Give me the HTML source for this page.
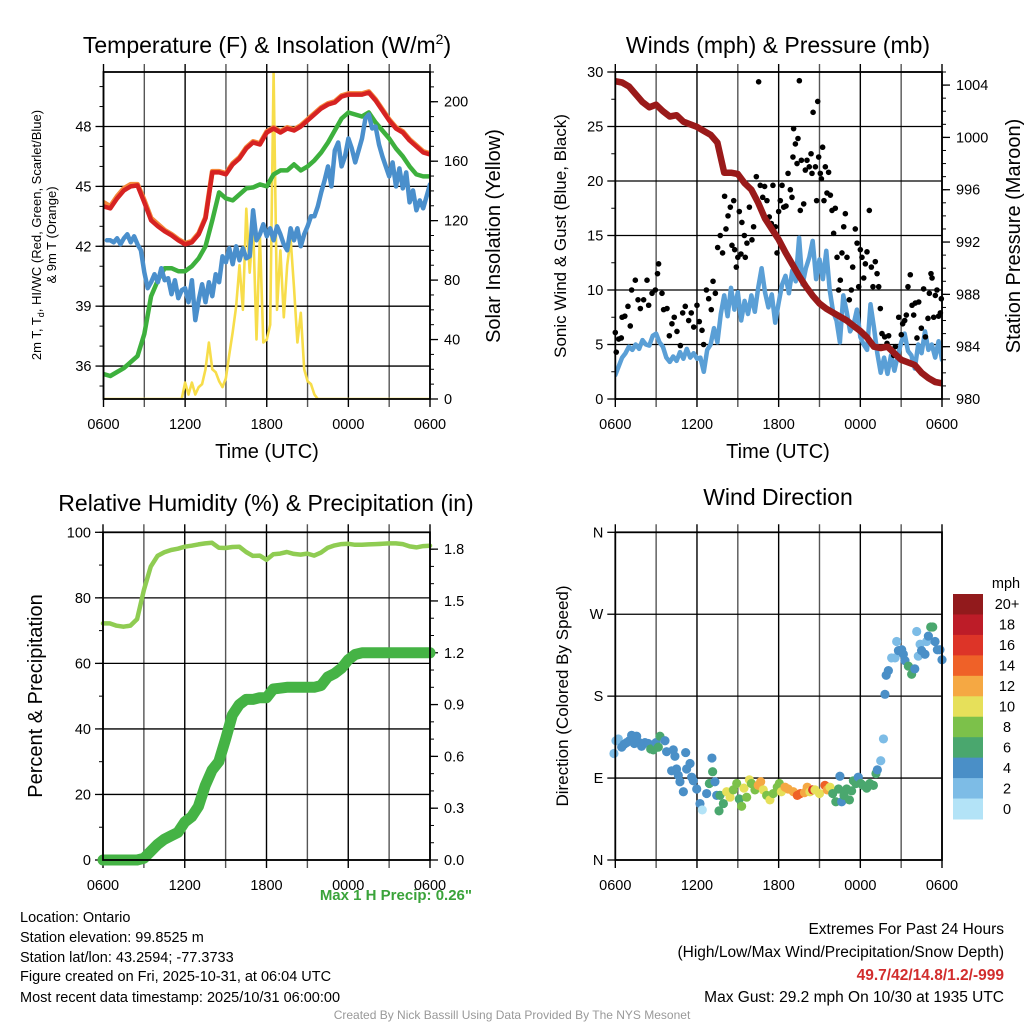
<!DOCTYPE html>
<html><head><meta charset="utf-8"><style>
html,body{margin:0;padding:0;background:#fff}
svg{display:block;font-family:"Liberation Sans",sans-serif}
</style></head><body>
<svg id="s" width="1024" height="1024" viewBox="0 0 1024 1024" xmlns="http://www.w3.org/2000/svg">
<g font-size="23" text-anchor="middle" fill="#000">
<text x="267" y="53">Temperature (F) &amp; Insolation (W/m<tspan font-size="14" dy="-9">2</tspan><tspan dy="9">)</tspan></text>
<text x="778" y="53">Winds (mph) &amp; Pressure (mb)</text>
<text x="266" y="511">Relative Humidity (%) &amp; Precipitation (in)</text>
<text x="778" y="505">Wind Direction</text>
</g>
<g fill="#000" text-anchor="middle">
<text x="267" y="458" font-size="20">Time (UTC)</text>
<text x="778" y="458" font-size="20">Time (UTC)</text>
<text transform="translate(41,235) rotate(-90)" font-size="13">2m T, T<tspan font-size="9" dy="3">d</tspan><tspan dy="-3">, HI/WC (Red, Green, Scarlet/Blue)</tspan></text>
<text transform="translate(56,235) rotate(-90)" font-size="13">&amp; 9m T (Orange)</text>
<text transform="translate(500,236) rotate(-90)" font-size="20">Solar Insolation (Yellow)</text>
<text transform="translate(566,236) rotate(-90)" font-size="17">Sonic Wind &amp; Gust (Blue, Black)</text>
<text transform="translate(1020,236) rotate(-90)" font-size="20">Station Pressure (Maroon)</text>
<text transform="translate(42,696) rotate(-90)" font-size="20">Percent &amp; Precipitation</text>
<text transform="translate(568,696) rotate(-90)" font-size="17">Direction (Colored By Speed)</text>
</g>
<g font-size="14.5" fill="#000">
<text x="20" y="922">Location: Ontario</text>
<text x="20" y="942">Station elevation: 99.8525 m</text>
<text x="20" y="962">Station lat/lon: 43.2594; -77.3733</text>
<text x="20" y="981">Figure created on Fri, 2025-10-31, at 06:04 UTC</text>
<text x="20" y="1002">Most recent data timestamp: 2025/10/31 06:00:00</text>
</g>
<g font-size="15.5" fill="#000" text-anchor="end">
<text x="1004" y="934">Extremes For Past 24 Hours</text>
<text x="1004" y="957">(High/Low/Max Wind/Precipitation/Snow Depth)</text>
<text x="1004" y="980" fill="#d22d2d" font-weight="bold">49.7/42/14.8/1.2/-999</text>
<text x="1004" y="1002">Max Gust: 29.2 mph On 10/30 at 1935 UTC</text>
</g>
<text x="472" y="900" font-size="15" font-weight="bold" fill="#3aa33a" text-anchor="end">Max 1 H Precip: 0.26"</text>
<text x="512" y="1019" font-size="12" fill="#999" text-anchor="middle">Created By Nick Bassill Using Data Provided By The NYS Mesonet</text>
</svg>
<script>
// ---- Temperature panel data (hours since 0600 UTC) ----
const tempStep = 0.5;
const tempRed = [44.0,43.9,44.4,44.8,45.0,45.05,44.2,43.3,43.0,42.75,42.55,42.3,42.1,42.2,42.6,43.4,45.7,45.7,45.6,46.1,46.4,46.9,47.2,47.1,47.7,47.9,47.7,47.9,47.8,48.0,48.3,48.6,48.9,49.1,49.2,49.5,49.6,49.6,49.6,49.7,49.3,48.8,48.3,47.9,47.7,47.3,47.0,46.7,46.6];
const tempOrange = [44.2,44.0,44.5,44.9,45.1,45.1,44.3,43.4,43.1,42.8,42.6,42.35,42.15,42.25,42.65,43.45,45.75,45.75,45.65,46.15,46.45,46.95,47.25,47.15,47.75,47.95,47.75,47.95,47.85,48.05,48.35,48.65,48.95,49.15,49.25,49.55,49.65,49.65,49.65,49.75,49.35,48.85,48.35,47.95,47.75,47.35,47.05,46.75,46.65];
const tempGreen = [35.6,35.5,35.7,35.9,36.2,36.5,37.6,39.5,40.3,40.9,40.9,40.75,40.75,41.0,41.4,42.0,43.3,44.7,44.4,44.3,44.6,44.9,44.95,45.1,45.0,45.6,45.8,45.8,46.1,45.8,46.0,46.3,46.7,47.2,47.8,48.4,48.7,48.6,48.5,48.7,48.2,47.8,47.4,46.9,46.5,46.0,45.6,45.5,45.5];
const blueStart = 0.25, blueStep = 0.25;
const tempBlue = [42.3,42.3,42.2,42.4,42.1,42.4,42.6,42.2,42.5,42.1,41.8,40.7,39.9,40.2,40.6,40.2,40.9,40.3,40.4,39.6,40.3,39.4,39.8,39.9,39.2,40.3,38.3,39.3,40.1,39.2,40.2,39.5,40.6,40.2,41.5,41.2,41.9,41.1,42.0,41.3,41.9,41.4,41.5,43.8,42.3,42.6,43.1,42.5,42.9,42.3,43.0,42.6,42.1,41.8,42.9,42.3,42.9,42.0,42.6,43.0,43.5,43.5,44.0,44.7,45.3,46.0,45.0,46.8,47.2,46.0,46.5,47.4,46.9,46.2,46.8,47.4,48.4,48.6,47.9,48.0,47.1,46.5,46.0,45.5,46.2,45.0,45.9,44.9,45.7,44.2,44.8,43.8,44.3,43.9,44.5,45.1];
const solarStep = 0.25;
const solar = [0,0,0,0,0,0,0,0,0,0,0,0,0,0,0,0,0,0,0,0,0,0,0,0,11,3,11,3,8,10,20,38,20,18,12,8,14,30,45,62,90,60,128,85,118,40,110,38,40,50,220,60,100,55,90,108,75,38,58,20,12,10,3,0,0,0,0,0,0,0,0,0,0,0,0,0,0,0,0,0,0,0,0,0,0,0,0,0,0,0,0,0,0,0,0,0,0];
const tempTicks = [36,39,42,45,48];
const solarTicks = [0,40,80,120,160,200];
const timeLabels = ["0600","1200","1800","0000","0600"];

// ---- Wind panel data ----
const windStep = 0.25;
const windSpeed = [2.2,3.0,3.8,4.2,4.8,4.5,5.0,4.6,5.4,5.0,4.9,5.8,6.0,5.2,4.8,3.8,3.4,3.9,3.5,4.3,3.7,4.6,3.8,4.2,3.7,3.8,2.5,4.5,5.0,6.5,5.2,7.8,9.5,7.6,10.2,8.2,9.8,7.2,9.0,7.8,9.5,8.0,10.2,12.0,9.8,8.4,9.6,7.0,8.8,10.5,11.3,9.7,11.8,10.8,14.8,10.5,12.0,13.0,14.5,11.0,12.8,11.0,13.6,10.0,8.0,7.2,5.2,9.5,8.0,6.2,6.8,8.2,5.7,5.0,4.5,8.7,6.6,4.2,2.4,3.8,2.3,4.0,2.6,4.0,5.2,6.0,4.4,4.0,2.8,5.0,4.2,6.2,4.5,5.0,3.8,5.3,3.6];
const gustT = [0,0.07,0.25,0.44,0.5,0.7,0.93,1.1,1.2,1.47,1.67,1.84,2.08,2.33,2.45,2.7,2.94,3.1,3.18,3.43,3.55,3.8,3.97,4.16,4.33,4.53,4.78,4.95,5.14,5.39,5.58,5.76,6.0,6.17,6.37,6.49,6.69,6.86,7.05,7.18,7.35,7.52,7.71,7.88,8.03,8.13,8.28,8.45,8.57,8.7,8.77,8.89,9.0,9.11,9.23,9.3,9.48,9.55,9.67,9.85,10.04,10.16,10.36,10.53,10.65,10.83,10.97,11.14,11.31,11.46,11.58,11.76,11.88,12.0,12.12,12.25,12.37,12.54,12.69,12.86,12.98,13.05,13.1,13.23,13.35,13.42,13.52,13.59,13.67,13.84,13.96,14.08,14.25,14.38,14.45,14.53,14.7,14.79,14.87,14.94,15.06,15.14,15.23,15.33,15.43,15.55,15.67,15.8,15.92,16.04,16.16,16.29,16.41,16.53,16.65,16.78,16.9,17.02,17.19,17.34,17.44,17.63,17.76,17.88,18.0,18.12,18.25,18.37,18.49,18.66,18.81,18.93,19.1,19.23,19.35,19.47,19.59,19.79,19.96,20.08,20.28,20.45,20.57,20.82,21.01,21.11,21.26,21.38,21.5,21.67,21.8,21.92,22.04,22.16,22.29,22.48,22.65,22.78,22.97,23.07,23.19,23.27,23.39,23.51,23.63,23.75,23.88,23.95];
const gustV = [6.1,4.3,5.5,5.6,7.5,7.6,8.5,6.7,10,10.9,9.1,8.3,9.1,10.9,8.6,9.7,10,11.5,12.4,9.7,8.2,8.3,5.8,6.9,7.5,6.2,4.9,7.9,8.5,7.2,7.9,6.6,8.6,7.1,6.3,5.0,10,9.2,8.2,10.8,9.7,13.9,15.0,13.4,18.6,15.6,16.8,17.6,14.1,18.2,13.7,12.1,13.0,17.2,13.3,16.2,15.0,13.0,14.3,17.6,14.6,15.8,20.4,29.1,19.6,18.5,19.5,18.2,16.7,16.1,19.6,15.8,13.4,17.2,18.2,19.6,17.6,17.7,20.7,19.2,18.5,22.2,24.8,23.4,21.6,23.9,29.2,17.3,21.9,17.9,21.0,21.9,21.3,22.5,20.7,26.3,21.3,18.2,27.3,22.2,20.7,20.2,23.1,18.2,21.3,18.9,20.8,18.7,17.3,15.2,17.5,13.0,10.0,10.9,13.4,15.8,17.0,13.0,9.1,10.0,12.1,15.6,14.3,10.3,13.7,13.0,11.1,12.4,13.5,17.3,12.1,10.3,12.6,11.5,10.3,8.3,6.0,5.7,5.1,5.8,4.5,4.0,4.8,7.5,5.9,6.9,7.2,7.7,10.3,11.4,8.6,7.7,8.8,5.6,8.9,6.5,10.1,5.7,7.4,9.7,11.5,11.1,7.5,9.5,10.0,7.6,7.9,9.2];
const pressStep = 0.5;
const pressure = [1004.3,1004.2,1003.9,1003.3,1002.7,1002.3,1002.5,1002.0,1001.6,1001.7,1001.2,1001.0,1000.8,1000.5,1000.2,999.6,997.3,997.3,997.2,996.5,996.0,995.0,993.8,993.0,992.2,991.2,990.3,989.4,988.6,987.9,987.3,986.9,986.6,986.3,986.0,985.6,985.2,984.7,984.0,983.9,984.0,983.5,983.0,982.8,982.6,982.0,981.6,981.3,981.2];
const windTicks = [0,5,10,15,20,25,30];
const pressTicks = [980,984,988,992,996,1000,1004];

// ---- Humidity panel data ----
const rhStep = 0.5;
const rh = [72.2,72.2,71.5,71.2,71.5,73.5,82.4,89.5,92.8,93.9,94.6,95.0,95.6,95.9,96.3,96.6,96.8,95.3,95.2,95.5,95.6,94.0,92.8,92.9,91.6,93.3,93.5,94.0,93.4,93.2,93.5,92.9,93.8,95.3,96.0,96.4,96.5,96.2,96.2,96.3,96.4,96.5,96.6,96.6,96.4,95.7,95.4,95.8,95.9];
const precip = [0,0,0,0,0,0,0.01,0.05,0.09,0.12,0.14,0.16,0.22,0.25,0.31,0.43,0.52,0.57,0.70,0.84,0.90,0.93,0.93,0.94,0.94,0.99,0.995,1.0,1.0,1.0,1.0,1.0,1.01,1.06,1.08,1.11,1.16,1.19,1.2,1.2,1.2,1.2,1.2,1.2,1.2,1.2,1.2,1.2,1.2];
const rhTicks = [0,20,40,60,80,100];
const precipTicks = [0,0.3,0.6,0.9,1.2,1.5,1.8];

// ---- Wind direction data ----
const dirT = [-0.1,0.05,0.22,0.47,0.64,0.83,1.03,1.2,1.4,1.57,1.76,1.93,2.18,2.42,2.6,2.79,2.99,3.16,3.28,3.65,3.77,4.14,4.26,4.38,4.5,4.63,4.75,5.0,5.17,5.24,5.49,5.61,5.73,5.98,6.22,6.39,6.71,6.91,7.1,7.15,7.32,7.45,7.62,7.69,7.94,8.18,8.43,8.67,8.92,9.11,9.28,9.45,9.65,9.85,10.0,10.26,10.5,10.68,10.87,11.12,11.36,11.6,11.9,12.05,12.2,12.47,12.7,13.08,13.37,13.6,13.9,14.1,14.3,14.5,14.67,15.0,15.4,15.57,15.77,15.97,16.2,16.4,16.5,16.63,16.8,17.0,17.2,17.36,17.49,17.68,17.85,18.03,18.2,18.47,18.7,18.96,19.15,19.25,19.5,19.7,19.81,19.9,20.06,20.3,20.55,20.67,20.8,21.04,21.16,21.28,21.53,21.77,22.0,22.14,22.26,22.39,22.5,22.75,22.87,23.0,23.17,23.32,23.49,23.66,23.85,24.0];
const dirV = [117,131,133,124,127,129,131,137,128,136,129,125,129,128,122,121,129,124,136,131,119,98,121,114,100,93,86,75,118,100,106,91,87,78,62,55,73,84,112,97,86,71,54,71,62,75,69,77,84,67,59,79,69,88,84,77,82,86,77,71,66,73,80,84,75,80,78,75,71,73,74,80,75,77,77,73,82,77,80,73,64,78,92,64,71,78,66,76,87,84,91,84,82,79,84,82,95,99,109,133,182,203,208,222,222,240,230,231,226,219,213,204,210,251,224,237,230,226,240,246,256,256,240,231,231,220];
const dirS = [3,2,2,4,4,4,4,4,4,4,4,4,4,4,6,6,4,6,6,4,4,4,4,4,4,4,4,4,4,4,4,4,4,4,4,1,4,6,4,6,4,4,6,7,7,10,10,8,8,7,8,10,8,10,9,8,12,13,10,8,10,9,9,8,10,12,12,13,15,14,12,12,10,16,10,11,15,12,11,7,7,7,4,4,7,7,6,6,6,6,4,6,7,7,7,7,6,4,2,2,4,4,4,2,2,2,4,4,4,4,6,6,4,2,2,2,4,4,2,4,6,6,4,4,4,4];
const speedColors = ["#b3e3f7","#7dbce6","#4a8fc7","#4aa76e","#7cc14a","#e6e05a","#f5a843","#ef6128","#dd3428","#bd1c28","#921a1c"];
const speedLabels = ["0","2","4","6","8","10","12","14","16","18","20+"];
const dirTicks = [0,90,180,270,360];
const dirLabels = ["N","E","S","W","N"];

const NS = "http://www.w3.org/2000/svg";
const svg = document.getElementById('s');
function mk(tag, attrs, parent){
  const e = document.createElementNS(NS, tag);
  for (const k in attrs) e.setAttribute(k, attrs[k]);
  (parent||svg).appendChild(e);
  return e;
}
function makeX(P){ return t => P.x0 + (t/24)*(P.x1-P.x0); }
function makeY(P, lo, hi){ return v => P.y1 - (v-lo)/(hi-lo)*(P.y1-P.y0); }

function frame(P, name){
  const g = mk('g', {});
  
  
  const xs = makeX(P);
  for (let h=0; h<=24; h+=3){
    const x = xs(h);
    const l = mk('line', {x1:x, x2:x, y1:P.y0-8, y2:P.y1+8, stroke:(h%6===0?'#000':'#555'), 'stroke-width':1.4}, g);
    
    
  }
  timeLabels.forEach((lab,i)=>{
    const t = mk('text', {x:xs(i*6), y:P.y1+30, 'font-size':14.5, 'text-anchor':'middle'}, g);
    t.textContent = lab;
    
    
  });
  return g;
}
function yAxis(P, g, lo, hi, ticks, labels, side, minorStep, grid, fmt){
  const ys = makeY(P, lo, hi);
  const x = side==='left' ? P.x0 : P.x1;
  const dir = side==='left' ? -1 : 1;
  if (minorStep){
    for (let v=Math.ceil(lo/minorStep)*minorStep; v<=hi+1e-9; v+=minorStep){
      mk('line', {x1:x, x2:x+dir*4, y1:ys(v), y2:ys(v), stroke:'#000', 'stroke-width':1}, g);
    }
  }
  ticks.forEach((v,i)=>{
    const y = ys(v);
    if (grid) mk('line', {x1:P.x0, x2:P.x1, y1:y, y2:y, stroke:'#000', 'stroke-width':1.3}, g);
    mk('line', {x1:x, x2:x+dir*8, y1:y, y2:y, stroke:'#000', 'stroke-width':1.3}, g);
    const t = mk('text', {x: side==='left'? x-12 : x+14, y:y+5, 'font-size':14.5, 'text-anchor': side==='left'?'end':'start'}, g);
    t.textContent = labels ? labels[i] : (fmt ? fmt(v) : v);
    
    
  });
}
function border(P){
  const r = mk('rect', {x:P.x0, y:P.y0, width:P.x1-P.x0, height:P.y1-P.y0, fill:'none', stroke:'#000', 'stroke-width':1.8});
  
  
}
function line(xs, ys, start, step, vals, color, w, name, clip){
  const pts = vals.map((v,i)=> xs(start+i*step).toFixed(1)+','+ys(v).toFixed(1)).join(' ');
  const p = mk('polyline', {points:pts, fill:'none', stroke:color, 'stroke-width':w, 'stroke-linejoin':'round', 'stroke-linecap':'round'});
  if (clip) p.setAttribute('clip-path', clip);
  
  
  return p;
}
function clipFor(P, id){
  const d = mk('clipPath', {id:id});
  mk('rect', {x:P.x0, y:P.y0, width:P.x1-P.x0, height:P.y1-P.y0}, d);
  return 'url(#'+id+')';
}

// Panel 1: temperature
const P1 = {x0:103.5, x1:430, y0:72, y1:399};
let g = frame(P1, 'temperature');
yAxis(P1, g, 34.35, 50.73, tempTicks, null, 'left', 1, true);
yAxis(P1, g, 0, 220, solarTicks, null, 'right', 10, false);
const c1 = clipFor(P1, 'c1');
const x1 = makeX(P1), yT = makeY(P1, 34.35, 50.73), yS = makeY(P1, 0, 220);
line(x1, yS, 0, solarStep, solar, '#f7dd4a', 2.6, 'solar-insolation-line', c1);
line(x1, yT, 0, tempStep, tempGreen, '#3db03d', 4.5, 'heat-index-line', c1);
line(x1, yT, 0, tempStep, tempOrange, '#f5883a', 5, 'temp-9m-line', c1);
line(x1, yT, 0, tempStep, tempRed, '#d62222', 4.5, 'temp-2m-line', c1);
line(x1, yT, blueStart, blueStep, tempBlue, '#4a8fcc', 4.5, 'dewpoint-line', c1);
border(P1);

// Panel 2: winds
const P2 = {x0:615.3, x1:942, y0:72, y1:399};
g = frame(P2, 'winds');
yAxis(P2, g, 0, 30, windTicks, null, 'left', 2.5, true);
yAxis(P2, g, 980, 1005, pressTicks, null, 'right', 1, false);
const c2 = clipFor(P2, 'c2');
const x2 = makeX(P2), yW = makeY(P2, 0, 30), yP = makeY(P2, 980, 1005);
line(x2, yW, 0, windStep, windSpeed, '#5a9fd6', 4.5, 'sonic-wind-line', c2);
const gg = mk('g', {});


gustT.forEach((t,i)=>{
  const c = mk('circle', {cx:x2(t), cy:yW(gustV[i]), r:2.8, fill:'#000'}, gg);
  
  
});
line(x2, yP, 0, pressStep, pressure, '#9a1a1a', 6.5, 'station-pressure-line', c2);
border(P2);

// Panel 3: humidity
const P3 = {x0:103, x1:430, y0:532.3, y1:860};
g = frame(P3, 'humidity');
yAxis(P3, g, 0, 100, rhTicks, null, 'left', 10, true);
yAxis(P3, g, 0, 1.8975, precipTicks, null, 'right', 0.1, false, v=>v.toFixed(1));
const x3 = makeX(P3), yR = makeY(P3, 0, 100), yQ = makeY(P3, 0, 1.8975);
line(x3, yR, 0, rhStep, rh, '#8fcc52', 4.5, 'relative-humidity-line');
line(x3, yQ, 0, rhStep, precip, '#45b345', 11, 'precipitation-line');
border(P3);

// Panel 4: wind direction
const P4 = {x0:615.3, x1:942, y0:532.3, y1:860};
g = frame(P4, 'direction');
yAxis(P4, g, 0, 360, dirTicks, dirLabels, 'left', 0, true);
const x4 = makeX(P4), yD = makeY(P4, 0, 360);
const dg = mk('g', {});


dirT.forEach((t,i)=>{
  const idx = Math.min(10, Math.floor(dirS[i]/2));
  const c = mk('circle', {cx:x4(t), cy:yD(dirV[i]), r:4.6, fill:speedColors[idx]}, dg);
  
  
});
border(P4);

// Colorbar
const cb = mk('g', {});


const cbTop = 594, cbH = 225/11;
const mph = mk('text', {x:1006, y:588, 'font-size':14.5, 'text-anchor':'middle'}, cb);
mph.textContent = 'mph';


speedColors.forEach((col,i)=>{
  const k = 10 - i;
  const y = cbTop + i*cbH;
  const r = mk('rect', {x:953, y:y, width:30, height:cbH+0.5, fill:speedColors[k]}, cb);
  
  
  const t = mk('text', {x:1007, y:y+cbH/2+5, 'font-size':14.5, 'text-anchor':'middle'}, cb);
  t.textContent = speedLabels[k];
  
  
});
</script>
</body></html>
